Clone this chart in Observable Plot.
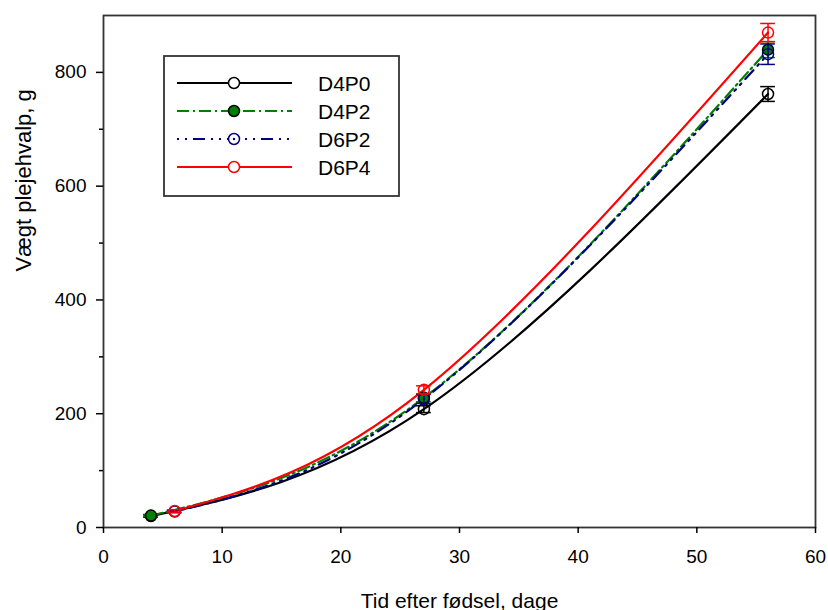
<!DOCTYPE html>
<html><head><meta charset="utf-8">
<script src="https://cdn.jsdelivr.net/npm/d3@7"></script>
<script src="https://cdn.jsdelivr.net/npm/@observablehq/plot@0.6"></script>
<style>
body{margin:0;background:#fff;}
#chart{position:relative;width:828px;height:610px;}
#legend{position:absolute;left:163px;top:55px;}
</style></head><body><div id="chart"></div>
<script>
const seriesNames = ["D4P0", "D4P2", "D6P2", "D6P4"];
const daysD4 = [4, 27, 56];
const daysD6 = [6, 27, 56];
const D4P0 = [20, 208, 762];
const D4P2 = [21, 228, 840];
const D6P2 = [28, 226, 832];
const D6P4 = [29, 242, 870];
const errD4P0 = [2, 6, 13];
const errD4P2 = [2, 7, 14];
const errD6P2 = [2, 8, 18];
const errD6P4 = [2, 7, 16];
const xTicks = [0, 10, 20, 30, 40, 50, 60];
const yTicks = [0, 200, 400, 600, 800];
const yMinorTicks = [100, 300, 500, 700];
const xLabel = "Tid efter fødsel, dage";
const yLabel = "Vægt plejehvalp, g";

const days = [daysD4, daysD4, daysD6, daysD6];
const values = [D4P0, D4P2, D6P2, D6P4];
const errs = [errD4P0, errD4P2, errD6P2, errD6P4];
const colors = ["#000000", "#008000", "#000080", "#ff0000"];
const dashes = [null, "12,4,2,4", "2,6,2,6,12,6", null];
const fills = ["white", "#008000", "white", "white"];
const dotStrokes = ["#000000", "#000000", "#000080", "#ff0000"];

const rows = seriesNames.map((s, i) => days[i].map((d, j) => ({series: s, x: d, y: values[i][j], e: errs[i][j]})));

const marks = [];
rows.forEach((r, i) => {
  marks.push(Plot.line(r, {x: "x", y: "y", stroke: colors[i], strokeWidth: 2.2, strokeDasharray: dashes[i], curve: "natural"}));
});
rows.forEach((r, i) => {
  marks.push(Plot.ruleX(r, {x: "x", y1: d => d.y - d.e, y2: d => d.y + d.e, stroke: colors[i], strokeWidth: 1.5}));
  marks.push(Plot.ruleY(r, {y: d => d.y + d.e, x1: d => d.x - 0.62, x2: d => d.x + 0.62, stroke: colors[i], strokeWidth: 1.5}));
  marks.push(Plot.ruleY(r, {y: d => d.y - d.e, x1: d => d.x - 0.62, x2: d => d.x + 0.62, stroke: colors[i], strokeWidth: 1.5}));
  marks.push(Plot.dot(r, {x: "x", y: "y", r: 5.5, stroke: dotStrokes[i], fill: fills[i], fillOpacity: i === 1 ? 1 : 0, strokeWidth: 1.5}));
  if (i === 2) marks.push(Plot.dot(r, {x: "x", y: "y", r: 1.2, fill: colors[i]}));
});

const chart = Plot.plot({
  width: 828,
  height: 610,
  marginLeft: 103,
  marginRight: 13,
  marginTop: 15,
  marginBottom: 83,
  style: {fontFamily: "'Liberation Sans', Arial, sans-serif", fontSize: "19px", color: "black", background: "white"},
  x: {domain: [0, 60]},
  y: {domain: [0, 900]},
  marks: [
    ...marks,
    Plot.frame({stroke: "#333", strokeWidth: 1.8}),
    Plot.axisX({ticks: xTicks, tickSize: 6, tickPadding: 16, strokeWidth: 1.5, label: null}),
    Plot.axisY({ticks: yTicks, tickSize: 7, tickPadding: 10, strokeWidth: 1.5, label: null}),
    Plot.axisY({ticks: yMinorTicks, tickSize: 4, strokeWidth: 1.5, tickFormat: () => "", label: null}),
    Plot.text([xLabel], {frameAnchor: "bottom", dy: 80, fontSize: 21, lineAnchor: "bottom", text: d => d}),
    Plot.text([yLabel], {frameAnchor: "left", dx: -80, rotate: -90, fontSize: 22, lineAnchor: "middle", text: d => d})
  ]
});
document.getElementById("chart").appendChild(chart);

// legend
const lg = d3.select("#chart").append("svg").attr("id", "legend")
  .attr("width", 237).attr("height", 142)
  .style("font-family", "'Liberation Sans', Arial, sans-serif");
lg.append("rect").attr("x", 1).attr("y", 1).attr("width", 235).attr("height", 140)
  .attr("fill", "white").attr("stroke", "#333").attr("stroke-width", 1.8);
seriesNames.forEach((s, i) => {
  const yy = 28 + i * 28;
  const ln = lg.append("line").attr("x1", 14).attr("x2", 129).attr("y1", yy).attr("y2", yy)
    .attr("stroke", colors[i]).attr("stroke-width", 2.2);
  if (dashes[i]) ln.attr("stroke-dasharray", dashes[i]);
  lg.append("circle").attr("cx", 71).attr("cy", yy).attr("r", 5.5)
    .attr("stroke", dotStrokes[i]).attr("stroke-width", 1.5)
    .attr("fill", i === 1 ? fills[i] : "white");
  if (i === 2) lg.append("circle").attr("cx", 71).attr("cy", yy).attr("r", 1.2).attr("fill", colors[i]);
  lg.append("text").attr("x", 155).attr("y", yy).attr("dy", "0.36em")
    .attr("font-size", 21).attr("fill", "black").text(s);
});
</script>
</body></html>
